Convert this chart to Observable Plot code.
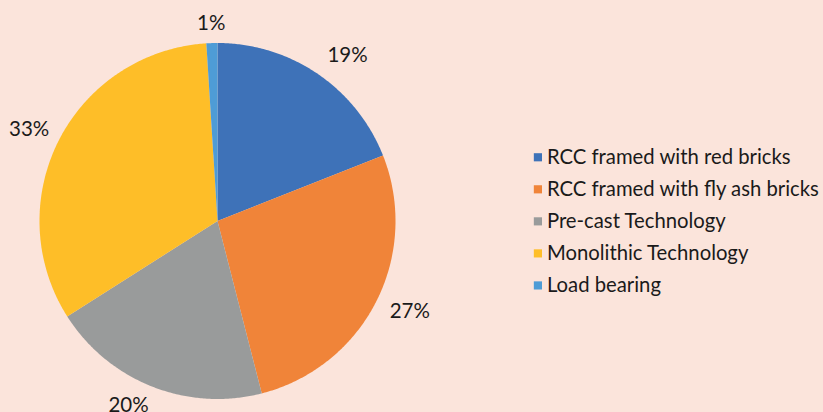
<!DOCTYPE html>
<html>
<head>
<meta charset="utf-8">
<script src="https://cdn.jsdelivr.net/npm/d3@7"></script>
<script src="https://cdn.jsdelivr.net/npm/@observablehq/plot@0.6"></script>
<style>
  html, body { margin: 0; padding: 0; background: #FBE4DB; }
  #chart { width: 823px; height: 412px; }
</style>
</head>
<body>
<div id="chart"></div>
<script>
const categories = [
  "RCC framed with red bricks",
  "RCC framed with fly ash bricks",
  "Pre-cast Technology",
  "Monolithic Technology",
  "Load bearing"
];
const values = [19, 27, 20, 33, 1];
const labels = ["19%", "27%", "20%", "33%", "1%"];
const colors = ["#3E72B8", "#F08439", "#999B9B", "#FEBE28", "#4E9CD6"];

// layout: small pixel nudges of the outside labels (Excel-style placement)
const labelNudge = [[14, 5], [4, -6], [-14, -5], [0, 4], [0, 1]];

const R = 178;
const total = d3.sum(values);
const slicePoints = [];
const labelData = [];
let acc = 0;
values.forEach((v, i) => {
  const a0 = acc / total * 2 * Math.PI;
  acc += v;
  const a1 = acc / total * 2 * Math.PI;
  slicePoints.push({cat: categories[i], x: 0, y: 0});
  const n = Math.max(4, Math.ceil((a1 - a0) / (Math.PI / 360)));
  for (let k = 0; k <= n; k++) {
    const a = a0 + (a1 - a0) * k / n;
    slicePoints.push({cat: categories[i], x: Math.sin(a), y: Math.cos(a)});
  }
  const am = (a0 + a1) / 2;
  const lr = (198 + 15 * Math.abs(Math.sin(am))) / R;
  labelData.push({
    label: labels[i],
    x: lr * Math.sin(am) + labelNudge[i][0] / R,
    y: lr * Math.cos(am) - labelNudge[i][1] / R
  });
});

// legend rows in data units of the same scales
const legendData = categories.map((c, i) => ({cat: c, x: 1.8, y: 0.358 - i * 0.18}));

const chart = Plot.plot({
  width: 823,
  height: 412,
  margin: 0,
  style: {background: "#FBE4DB", overflow: "visible"},
  x: {domain: [-1, 1], range: [217 - R, 217 + R], axis: null},
  y: {domain: [-1, 1], range: [220.5 + R, 220.5 - R], axis: null},
  color: {type: "ordinal", domain: categories, range: colors},
  marks: [
    Plot.line(slicePoints, {x: "x", y: "y", z: "cat", fill: "cat", stroke: "none", curve: "linear-closed"}),
    Plot.text(labelData, {x: "x", y: "y", text: "label", fontSize: 20.5, fill: "#1a1a1a", fontFamily: "Lato"}),
    Plot.dot(legendData, {x: "x", y: "y", fill: "cat", symbol: "square", r: 4.6, stroke: "none"}),
    Plot.text(legendData, {x: "x", y: "y", text: "cat", dx: 9, textAnchor: "start", fontSize: 20.3, fill: "#1a1a1a", fontFamily: "Lato"})
  ]
});
document.getElementById("chart").appendChild(chart);
</script>
</body>
</html>
